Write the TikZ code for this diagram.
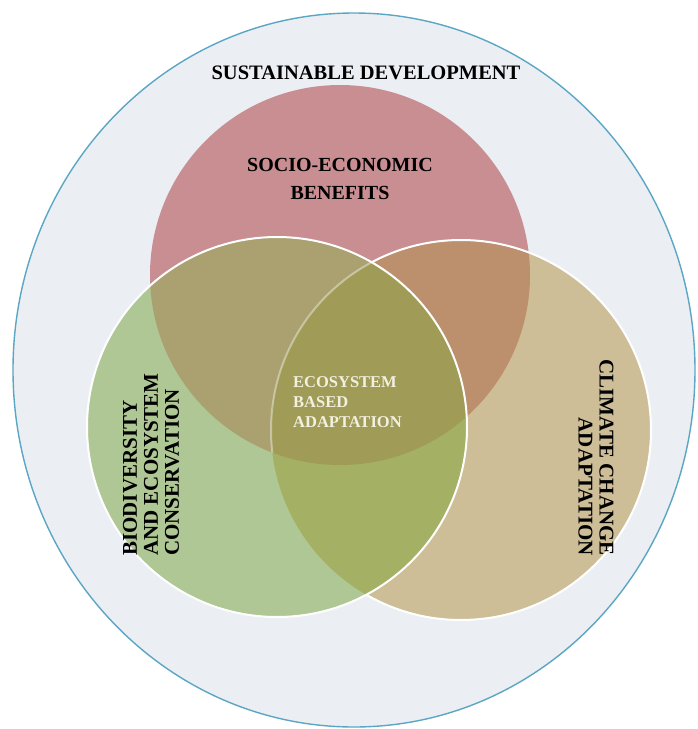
\documentclass[tikz,border=0pt]{standalone}
\usepackage{fontspec}
\setmainfont{Liberation Serif}
\usepackage{tikz}
\usetikzlibrary{positioning}
\definecolor{sdfill}{RGB}{235,239,243}
\definecolor{sdline}{RGB}{91,166,196}
\definecolor{sebred}{RGB}{201,142,146}
\definecolor{ccatan}{RGB}{206,190,151}
\definecolor{becgreen}{RGB}{175,199,148}
\definecolor{redtan}{RGB}{188,143,109}
\definecolor{redgreen}{RGB}{170,160,112}
\definecolor{greentan}{RGB}{164,177,101}
\definecolor{ebaolive}{RGB}{160,155,86}
\definecolor{ebatext}{RGB}{242,240,224}
\tikzset{
  title/.style={font=\fontsize{20.5}{22}\selectfont\bfseries, text=black, align=center},
  sidelabel/.style={font=\fontsize{21}{21}\selectfont\bfseries, text=black, inner sep=0pt},
  ebalabel/.style={font=\fontsize{16.5}{20}\selectfont\bfseries, text=ebatext, align=left, inner sep=0pt},
  rim/.style={white, line width=2pt}
}
\begin{document}
\begin{tikzpicture}[x=1pt, y=-1pt]
  \useasboundingbox (0,0) rectangle (698,729);
  \coordinate (sd) at (354,370);
  \coordinate (seb) at (340,275);
  \coordinate (bec) at (277,427);
  \coordinate (cca) at (461,430);

  \filldraw[fill=sdfill, draw=sdline, line width=1.4pt] (sd) ellipse [x radius=341pt, y radius=357pt];

  \fill[sebred] (seb) circle (190pt);
  \fill[ccatan] (cca) circle (190pt);
  \begin{scope}
    \clip (seb) circle (190pt);
    \fill[redtan] (cca) circle (190pt);
  \end{scope}
  \draw[rim] (cca) circle (190pt);

  \fill[becgreen] (bec) circle (190pt);
  \begin{scope}
    \clip (bec) circle (190pt);
    \fill[redgreen] (seb) circle (190pt);
    \fill[greentan] (cca) circle (190pt);
    \clip (seb) circle (190pt);
    \fill[ebaolive] (cca) circle (190pt);
    \draw[rim, opacity=0.4] (cca) circle (190pt);
  \end{scope}
  \draw[rim] (bec) circle (190pt);

  \node[title] (sdtext) at (366,73) {SUSTAINABLE DEVELOPMENT};
  \node[title, font=\fontsize{20}{28}\selectfont\bfseries] (sebtext) at (340,179) {SOCIO-ECONOMIC\\BENEFITS};
  \node[ebalabel, anchor=west] (ebatext) at (293,402) {ECOSYSTEM\\BASED\\ADAPTATION};
  \node[sidelabel, rotate=90, anchor=west, align=left] (bectext) at (151,556) {BIODIVERSITY\\AND ECOSYSTEM\\CONSERVATION};
  \node[sidelabel, rotate=-90, anchor=east, align=right] (ccatext) at (596,556) {CLIMATE CHANGE\\ADAPTATION};
\end{tikzpicture}
\end{document}
